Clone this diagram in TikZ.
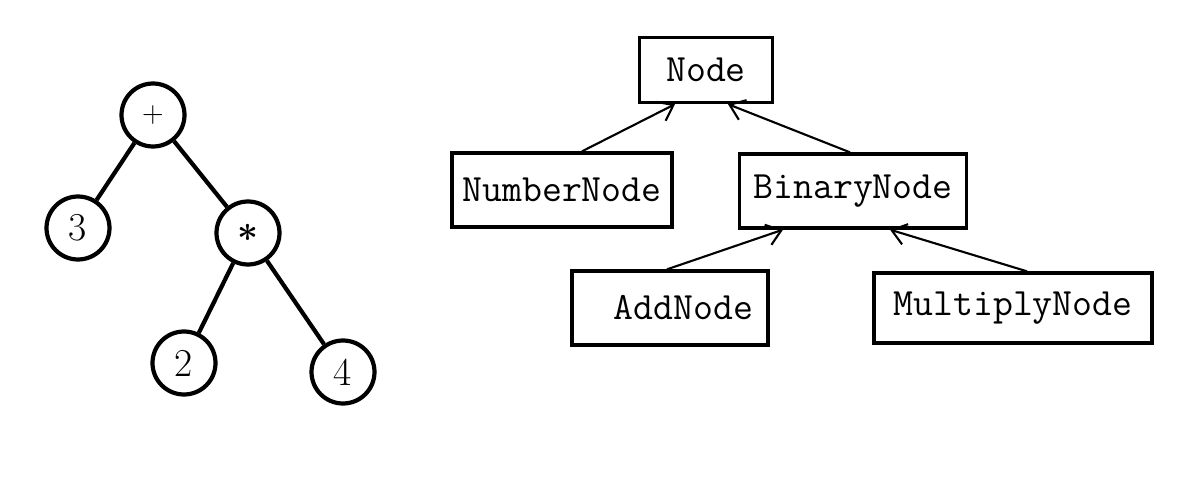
\documentclass[tikz,border=0pt]{standalone}
\usepackage{amsmath}
\usetikzlibrary{arrows.meta}
\begin{document}
\begin{tikzpicture}[x=0.02cm, y=-0.02cm,
  leaf/.style={circle, draw, line width=2.4pt, minimum size=1.26cm, inner sep=0pt, font=\fontsize{22.5}{26}\selectfont},
  cls/.style={draw, line width=1.9pt, font=\ttfamily\fontsize{22}{26}\selectfont, minimum height=1.48cm, inner sep=0pt},
  inherit/.style={line width=1.2pt, -{Straight Barb[length=8pt,width=12pt]}}]
\useasboundingbox (0,0) rectangle (1190,483);
% Expression tree
\node[leaf] (plus) at (153,115) {{\fontsize{17}{20}\selectfont +}};
\node[leaf] (three) at (78,228) {3};
\node[leaf] (times) at (248,233) {$\boldsymbol{\ast}$};
\node[leaf] (two) at (184,363) {2};
\node[leaf] (four) at (343,372) {4};
\draw[line width=2.4pt] (plus) -- (three);
\draw[line width=2.4pt] (plus) -- (times);
\draw[line width=2.4pt] (times) -- (two);
\draw[line width=2.4pt] (times) -- (four);
% Class hierarchy
\node[cls, minimum width=2.66cm, minimum height=1.3cm] (base) at (706,70) {Node};
\node[cls, minimum width=4.4cm] (num) at (562,190) {NumberNode};
\node[cls, minimum width=4.54cm] (bin) at (853,191) {BinaryNode};
\node[cls, inner xsep=0.3cm, text width=3.32cm, align=right] (add) at (670,308) {AddNode};
\node[cls, minimum width=5.56cm, minimum height=1.4cm] (mul) at (1013,308) {MultiplyNode};
% Inheritance arrows
\draw[inherit] ([xshift=0.4cm]num.north) -- ([xshift=-0.62cm]base.south);
\draw[inherit] ([xshift=-0.06cm]bin.north) -- ([xshift=0.44cm]base.south);
\draw[inherit] ([xshift=-0.06cm]add.north) -- ([xshift=-1.4cm]bin.south);
\draw[inherit] ([xshift=0.28cm]mul.north) -- ([xshift=0.74cm]bin.south);
\end{tikzpicture}
\end{document}
